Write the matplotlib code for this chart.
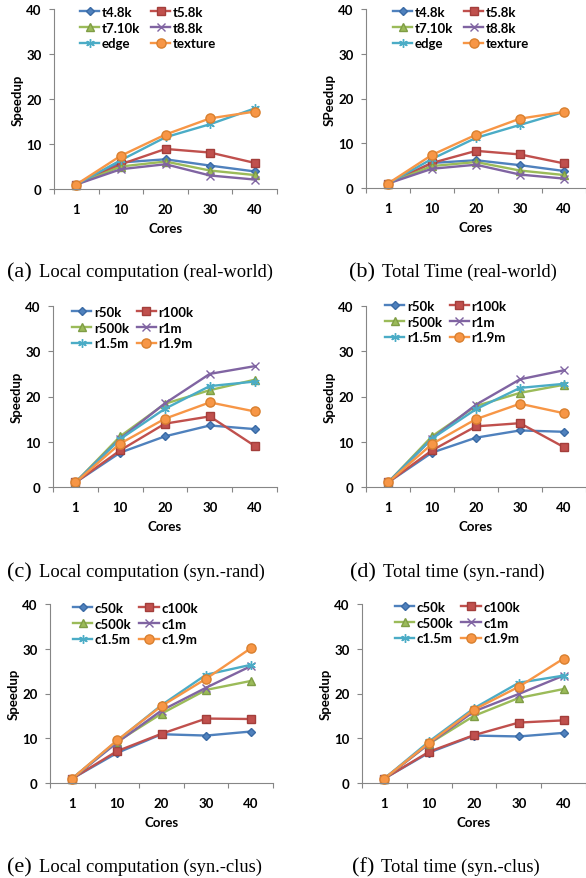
import matplotlib
matplotlib.use('Agg')
import matplotlib.pyplot as plt
import numpy as np

W, H = 586, 879

cores = ['1', '10', '20', '30', '40']

real_names = ['t4.8k', 't5.8k', 't7.10k', 't8.8k', 'edge', 'texture']
rand_names = ['r50k', 'r100k', 'r500k', 'r1m', 'r1.5m', 'r1.9m']
clus_names = ['c50k', 'c100k', 'c500k', 'c1m', 'c1.5m', 'c1.9m']

# (a) local computation, real-world graphs
real_local = [
    [1.0, 5.9, 6.6, 5.2, 3.9],
    [1.0, 5.5, 8.9, 8.1, 5.8],
    [1.0, 5.0, 6.1, 4.1, 3.1],
    [1.0, 4.4, 5.5, 3.0, 2.1],
    [1.0, 6.4, 11.5, 14.4, 17.9],
    [1.0, 7.4, 12.1, 15.7, 17.2],
]
# (b) total time, real-world graphs
real_total = [
    [1.0, 5.6, 6.2, 5.1, 3.8],
    [1.0, 5.6, 8.3, 7.5, 5.5],
    [1.0, 4.9, 5.8, 3.9, 2.9],
    [1.0, 4.3, 5.2, 3.0, 2.1],
    [1.0, 6.5, 11.2, 14.1, 17.0],
    [1.0, 7.4, 11.9, 15.5, 17.0],
]
# (c) local computation, synthetic random
rand_local = [
    [1.0, 7.6, 11.2, 13.6, 12.8],
    [1.0, 8.1, 14.0, 15.6, 9.1],
    [1.0, 11.2, 18.4, 21.4, 23.7],
    [1.0, 10.7, 18.5, 25.0, 26.7],
    [1.0, 10.6, 17.3, 22.3, 23.3],
    [1.0, 9.6, 15.1, 18.7, 16.7],
]
# (d) total time, synthetic random
rand_total = [
    [1.0, 7.6, 10.9, 12.5, 12.2],
    [1.0, 8.1, 13.4, 14.1, 8.8],
    [1.0, 11.2, 17.9, 20.8, 22.6],
    [1.0, 10.7, 18.2, 23.8, 25.8],
    [1.0, 10.7, 17.2, 21.9, 22.8],
    [1.0, 9.5, 15.0, 18.4, 16.3],
]
# (e) local computation, synthetic clustered
clus_local = [
    [1.0, 6.7, 10.9, 10.6, 11.5],
    [1.0, 7.1, 11.0, 14.4, 14.3],
    [1.0, 9.2, 15.5, 20.8, 22.8],
    [1.0, 9.0, 16.2, 21.3, 26.1],
    [1.0, 9.4, 17.4, 24.2, 26.4],
    [1.0, 9.5, 17.2, 23.3, 30.1],
]
# (f) total time, synthetic clustered
clus_total = [
    [1.0, 6.8, 10.6, 10.4, 11.2],
    [1.0, 7.0, 10.7, 13.5, 14.0],
    [1.0, 8.8, 15.0, 19.0, 21.0],
    [1.0, 8.8, 16.0, 19.9, 24.0],
    [1.0, 9.3, 16.7, 22.4, 24.0],
    [1.0, 9.0, 16.4, 21.5, 27.8],
]

colors = ['#4F81BD', '#C0504D', '#9BBB59', '#8064A2', '#4BACC6', '#F79646']
edges = ['#3A6AA5', '#A33E3B', '#7F9D45', '#8064A2', '#4BACC6', '#D9802F']
markers = ['D', 's', '^', 'x', (6, 2, 0), 'o']
msizes = [4.4, 5.4, 5.8, 5.8, 6.2, 6.6]

AX_GRAY = '#868686'
FONT = 'Lato'

plt.rcParams['font.family'] = [FONT, 'DejaVu Sans']

fig = plt.figure(figsize=(W / 100, H / 100), dpi=100)


def px_axes(l, t, r, b):
    return fig.add_axes([l / W, 1 - b / H, (r - l) / W, (b - t) / H])


def panel(box, names, data, ylabel, leg_xy, colsp):
    ax = px_axes(*box)
    x = np.arange(len(cores))
    handles = []
    for i in range(len(names)):
        h, = ax.plot(x, data[i], color=colors[i], lw=1.7, marker=markers[i],
                     ms=msizes[i], mfc=colors[i], mec=edges[i], mew=1.0,
                     label=names[i])
        handles.append(h)
    ax.set_xlim(-0.5, len(cores) - 0.5)
    ax.set_ylim(0, 40)
    ax.set_yticks([0, 10, 20, 30, 40])
    ax.set_xticks(x)
    ax.set_xticklabels(cores)
    ax.set_xticks(np.arange(-0.5, len(cores)), minor=True)
    ax.tick_params(axis='x', which='major', length=0, pad=10)
    ax.tick_params(axis='x', which='minor', length=3.8, width=0.8,
                   color=AX_GRAY, direction='out')
    ax.tick_params(axis='y', length=3.8, width=0.8, color=AX_GRAY, pad=5)
    for lab in ax.get_xticklabels() + ax.get_yticklabels():
        lab.set_fontweight('bold')
        lab.set_fontsize(9.5)
    for s in ['top', 'right']:
        ax.spines[s].set_visible(False)
    for s in ['left', 'bottom']:
        ax.spines[s].set_color(AX_GRAY)
        ax.spines[s].set_linewidth(0.8)
    ax.set_xlabel('Cores', fontsize=9.5, fontweight='bold', labelpad=5)
    ax.set_ylabel(ylabel, fontsize=9.5, fontweight='bold', labelpad=2)
    order = [0, 2, 4, 1, 3, 5]
    ax.legend([handles[k] for k in order], [names[k] for k in order],
              ncol=2, loc='upper left', frameon=False,
              bbox_to_anchor=(leg_xy[0] / W, 1 - (leg_xy[1] - 7) / H),
              bbox_transform=fig.transFigure, borderpad=0, borderaxespad=0,
              handlelength=1.45, handletextpad=0.2, labelspacing=0.28,
              columnspacing=colsp,
              prop={'family': FONT, 'weight': 'bold', 'size': 9.5})
    for ln in ax.lines:
        ln.set_clip_on(False)
    return ax


panel((54, 10, 277, 190), real_names, real_local, 'Speedup', (80, 14), 0.85)
panel((366, 10, 586, 189), real_names, real_total, 'SPeedup', (393, 14), 0.85)
panel((53, 307, 277, 488), rand_names, rand_local, 'Speedup', (72, 314), 0.6)
panel((366, 307, 586, 488), rand_names, rand_total, 'Speedup', (385, 308), 0.6)
panel((50, 605, 273, 784), clus_names, clus_local, 'Speedup', (73, 610), 0.6)
panel((362, 605, 586, 784), clus_names, clus_total, 'Speedup', (395, 609), 0.6)

captions = [
    ('(a)', 'Local computation (real-world)', 7, 277),
    ('(b)', 'Total Time (real-world)', 349, 277),
    ('(c)', 'Local computation (syn.-rand)', 7, 577),
    ('(d)', 'Total time (syn.-rand)', 350, 577),
    ('(e)', 'Local computation (syn.-clus)', 7, 872),
    ('(f)', 'Total time (syn.-clus)', 352, 872),
]
serif = ['Liberation Serif', 'DejaVu Serif']
renderer = fig.canvas.get_renderer()
for tag, txt, x0, yb in captions:
    t = fig.text(x0 / W, 1 - yb / H, tag, family=serif, fontsize=16,
                 va='baseline', ha='left')
    bb = t.get_window_extent(renderer=renderer)
    fig.text((bb.x1 + 7) / W, 1 - yb / H, txt, family=serif, fontsize=13.3,
             va='baseline', ha='left')

fig.savefig('out.png', dpi=100)
